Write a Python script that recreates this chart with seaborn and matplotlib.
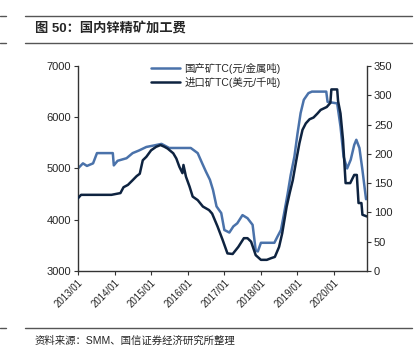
import pandas as pd
import seaborn as sns
import matplotlib.pyplot as plt
import matplotlib.dates as mdates
from matplotlib.lines import Line2D

# Data
dom_dates = ['2013-01-01', '2013-02-20', '2013-04-01', '2013-06-01', '2013-07-10', '2013-08-20',
             '2013-12-15', '2013-12-25', '2014-02-01', '2014-05-01', '2014-07-01', '2014-09-01',
             '2014-11-15', '2015-02-01', '2015-04-15', '2015-07-01', '2015-10-01', '2016-02-01',
             '2016-04-10', '2016-05-25', '2016-07-01', '2016-08-10', '2016-09-10', '2016-10-15',
             '2016-12-01', '2017-01-01', '2017-02-20', '2017-04-01', '2017-05-10', '2017-07-01',
             '2017-08-20', '2017-10-10', '2017-11-10', '2017-12-01', '2018-01-01', '2018-05-15',
             '2018-06-15', '2018-07-20', '2018-08-20', '2018-09-25', '2018-10-25', '2018-12-01',
             '2019-01-01', '2019-02-01', '2019-03-05', '2019-04-20', '2019-05-25', '2019-10-15',
             '2019-10-28', '2020-02-01', '2020-03-05', '2020-04-05', '2020-05-10', '2020-06-15',
             '2020-07-20', '2020-08-10', '2020-09-10', '2020-10-10', '2020-11-15']
dom_tc = [5000, 5100, 5050, 5100, 5300, 5300,
          5300, 5060, 5150, 5200, 5300, 5350,
          5420, 5450, 5480, 5400, 5400, 5400,
          5300, 5100, 4940, 4780, 4580, 4260,
          4130, 3800, 3750, 3870, 3930, 4090,
          4030, 3900, 3400, 3380, 3550, 3550,
          3670, 3800, 4120, 4510, 4870, 5230,
          5680, 6080, 6340, 6470, 6500, 6500,
          6300, 6270, 5820, 5230, 5000, 5170,
          5460, 5560, 5400, 4970, 4400]

imp_dates = ['2013-01-01', '2013-02-01', '2013-12-01', '2014-03-01', '2014-04-01', '2014-05-15',
             '2014-07-01', '2014-08-10', '2014-09-10', '2014-10-10', '2014-11-15', '2015-01-01',
             '2015-02-20', '2015-04-05', '2015-05-15', '2015-06-15', '2015-08-10', '2015-09-10',
             '2015-10-10', '2015-11-10', '2015-11-20', '2015-12-15', '2016-01-20', '2016-02-20',
             '2016-04-10', '2016-06-01', '2016-08-01', '2016-09-01', '2016-10-25', '2016-12-15',
             '2017-02-01', '2017-03-25', '2017-05-20', '2017-07-15', '2017-08-20', '2017-09-25',
             '2017-11-10', '2018-01-01', '2018-03-01', '2018-04-15', '2018-05-20', '2018-07-01',
             '2018-08-01', '2018-09-15', '2018-10-15', '2018-11-15', '2018-12-20', '2019-01-20',
             '2019-02-20', '2019-03-25', '2019-05-01', '2019-06-10', '2019-07-20', '2019-08-20',
             '2019-10-20', '2019-11-25', '2019-12-05', '2020-02-01', '2020-02-10', '2020-03-05',
             '2020-03-30', '2020-04-25', '2020-06-10', '2020-07-20', '2020-08-15', '2020-09-01',
             '2020-09-30', '2020-10-10', '2020-11-25']
imp_tc = [124, 130, 130, 133, 143, 147,
          155, 162, 166, 189, 195, 206,
          212, 215, 212, 209, 201, 192,
          178, 167, 181, 161, 144, 127,
          121, 110, 104, 98, 76, 53,
          30, 29, 41, 56, 56, 50,
          27, 19, 19, 22, 24, 41,
          64, 110, 133, 155, 189, 218,
          241, 252, 259, 262, 269, 275,
          280, 287, 310, 310, 290, 269,
          224, 150, 150, 164, 164, 116,
          116, 96, 93]

df_dom = pd.DataFrame({'date': pd.to_datetime(dom_dates), 'tc': dom_tc})
df_imp = pd.DataFrame({'date': pd.to_datetime(imp_dates), 'tc': imp_tc})

blue = '#4a72aa'
navy = '#0e2340'

sns.set_theme(style='white')
plt.rcParams['font.family'] = ['Liberation Sans', 'Noto Sans CJK SC']

fig = plt.figure(figsize=(4.19, 3.51), dpi=100)
ax = fig.add_axes([0.186, 0.228, 0.690, 0.584])
ax2 = ax.twinx()

sns.lineplot(data=df_dom, x='date', y='tc', ax=ax, color=blue, linewidth=1.8)
sns.lineplot(data=df_imp, x='date', y='tc', ax=ax2, color=navy, linewidth=1.8)

ax.set_ylim(3000, 7000)
ax.set_yticks(range(3000, 7001, 1000))
ax2.set_ylim(0, 350)
ax2.set_yticks(range(0, 351, 50))
ax.set_xlim(pd.Timestamp('2013-01-01'), pd.Timestamp('2020-11-25'))
ax.xaxis.set_major_locator(mdates.YearLocator())
ax.xaxis.set_major_formatter(mdates.DateFormatter('%Y/%m'))

for a in (ax, ax2):
    a.set_xlabel('')
    a.set_ylabel('')
    a.spines['top'].set_visible(False)
    for s in ('left', 'right', 'bottom'):
        a.spines[s].set_color('#333333')
        a.spines[s].set_linewidth(1.0)
    a.tick_params(length=3, width=0.8, color='#333333', labelsize=8, pad=2)
ax.spines['right'].set_visible(False)
ax2.spines['left'].set_visible(False)
ax2.spines['bottom'].set_visible(False)
ax.tick_params(axis='x', bottom=True, labelsize=7)
ax.tick_params(axis='y', left=True)
ax2.tick_params(axis='y', right=True)
plt.setp(ax.get_xticklabels(), rotation=45, ha='right', rotation_mode='anchor')

handles = [Line2D([], [], color=blue, linewidth=1.8), Line2D([], [], color=navy, linewidth=1.8)]
ax.legend(handles, ['国产矿TC(元/金属吨)', '进口矿TC(美元/千吨)'], loc='upper left',
          bbox_to_anchor=(0.22, 1.06), frameon=False, fontsize=7.5, handlelength=2.8,
          handletextpad=0.4, labelspacing=0.25)

# header / footer
fig.text(35 / 419, 1 - 29 / 351, '图 50：国内锌精矿加工费', fontsize=9.5, fontweight='bold',
         va='center', ha='left')
fig.text(35 / 419, 1 - 341 / 351, '资料来源：SMM、国信证券经济研究所整理', fontsize=7.5,
         va='center', ha='left')
for yy in (16, 43, 328):
    fig.add_artist(Line2D([25 / 419, 412 / 419], [1 - yy / 351] * 2, color='#555555', linewidth=1.0))
    fig.add_artist(Line2D([0, 6 / 419], [1 - yy / 351] * 2, color='#555555', linewidth=1.0))

plt.savefig('out.png', dpi=100)
